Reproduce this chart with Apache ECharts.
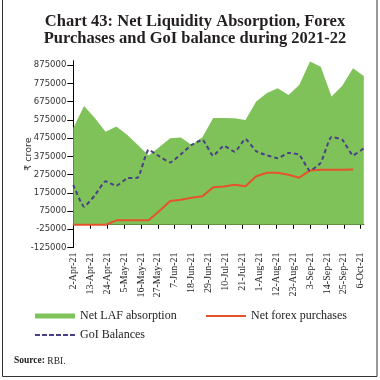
<!DOCTYPE html>
<html><head><meta charset="utf-8">
<script src="https://cdn.jsdelivr.net/npm/echarts@6/dist/echarts.min.js"></script>
<style>html,body{margin:0;padding:0;background:#fff}#c{width:380px;height:380px}</style>
</head><body><div id="c"></div>
<script>
// Weekly observation dates (Fridays)
const dates = ['2021-04-02','2021-04-09','2021-04-16','2021-04-23','2021-04-30','2021-05-07','2021-05-14',
  '2021-05-21','2021-05-28','2021-06-04','2021-06-11','2021-06-18','2021-06-25','2021-07-02','2021-07-09',
  '2021-07-16','2021-07-23','2021-07-30','2021-08-06','2021-08-13','2021-08-20','2021-08-27','2021-09-03',
  '2021-09-10','2021-09-17','2021-09-24','2021-10-01','2021-10-08'];
// values in thousand ₹ crore
const lafAbsorption = [531,652,585,510,539,494,438,380,427,474,478,438,480,585,585,584,575,676,723,749,712,767,895,867,704,762,859,816];
const goiBalances   = [219,99,161,238,214,255,259,411,375,342,387,438,466,378,433,400,470,403,381,365,394,384,296,340,482,466,381,419];
const forexPurchases= [0,0,0,0,24,24,24,24,75,130,137,148,156,205,210,219,211,266,285,285,274,258,298,301,302,302,303,null];
const tickLabels = ['2-Apr-21','13-Apr-21','24-Apr-21','5-May-21','16-May-21','27-May-21','7-Jun-21','18-Jun-21',
  '29-Jun-21','10-Jul-21','21-Jul-21','1-Aug-21','12-Aug-21','23-Aug-21','3-Sep-21','14-Sep-21','25-Sep-21','6-Oct-21'];
const yTickValues = [-125000,-25000,75000,175000,275000,375000,475000,575000,675000,775000,875000];

const MONTHS = {Jan:0,Feb:1,Mar:2,Apr:3,May:4,Jun:5,Jul:6,Aug:7,Sep:8,Oct:9,Nov:10,Dec:11};
const start = Date.UTC(2021,3,2);
function dayISO(s){const p=s.split('-').map(Number);return (Date.UTC(p[0],p[1]-1,p[2])-start)/864e5;}
function dayLabel(s){const p=s.split('-');return (Date.UTC(2000+Number(p[2]),MONTHS[p[1]],Number(p[0]))-start)/864e5;}
const xs = dates.map(dayISO);
const tickX = tickLabels.map(dayLabel);
const labelByX = {}; tickX.forEach((x,i)=>{labelByX[x]=tickLabels[i];});
const pairs = arr => arr.map((v,i)=>[xs[i], v]).filter(p=>p[1]!=null).map(p=>[p[0], p[1]*1000]);

const GREEN = '#80c25a', ORANGE = '#e5532a', PURPLE = '#4a3f86';
const dashIcon = 'path://M0,0h5v2h-5z M7,0h5v2h-5z M14,0h5v2h-5z M21,0h5v2h-5z M28,0h5v2h-5z M35,0h5v2h-5z';

const chart = echarts.init(document.getElementById('c'), null, {renderer:'canvas'});
const serif = 'Liberation Serif';
const legendText = {fontFamily:serif, fontSize:12, color:'#222'};
chart.setOption({
  animation:false,
  title:{text:'Chart 43: Net Liquidity Absorption, Forex\nPurchases and GoI balance during 2021-22',
    left:190, top:8, textAlign:'center',
    textStyle:{fontFamily:serif, fontWeight:'bold', fontSize:16.5, lineHeight:17, color:'#231f20'}},
  grid:{left:73.3, top:60.7, width:290.5, height:186.8},
  xAxis:{type:'value', min:0, max:dayISO(dates[dates.length-1]),
    axisLine:{onZero:true, lineStyle:{color:'#000', width:1}},
    axisTick:{show:true, customValues:tickX, length:4, lineStyle:{color:'#000'}},
    axisLabel:{customValues:tickX, formatter:v=>labelByX[v]||'', rotate:90, margin:5,
      fontFamily:serif, fontSize:10, color:'#222'},
    splitLine:{show:false}},
  yAxis:{type:'value', min:-125000, max:900000,
    axisLine:{show:true, onZero:false, lineStyle:{color:'#000'}},
    axisTick:{show:true, customValues:yTickValues, length:6, lineStyle:{color:'#000'}},
    axisLabel:{customValues:yTickValues, formatter:v=>String(v), fontFamily:'DejaVu Sans', fontSize:8.5, color:'#333', margin:7},
    splitLine:{show:false},
    name:'₹ crore', nameLocation:'middle', nameGap:40, nameMoveOverlap:false,
    nameTextStyle:{fontFamily:'DejaVu Sans', fontSize:9.5, color:'#333'}},
  legend:[
    {data:[{name:'Net LAF absorption', icon:'rect'}], left:30, top:305, itemWidth:40, itemHeight:5, textStyle:legendText},
    {data:[{name:'Net forex purchases', icon:'rect', itemStyle:{color:ORANGE}}], left:201, top:305, itemWidth:40, itemHeight:2, textStyle:legendText},
    {data:[{name:'GoI Balances', icon:dashIcon, itemStyle:{color:PURPLE}}], left:30, top:324, itemWidth:40, itemHeight:2, textStyle:legendText}
  ],
  series:[
    {name:'Net LAF absorption', type:'line', data:pairs(lafAbsorption), symbol:'none', z:1,
      itemStyle:{color:GREEN}, lineStyle:{width:0, color:GREEN},
      areaStyle:{color:GREEN, opacity:1, origin:0}},
    {name:'Net forex purchases', type:'line', data:pairs(forexPurchases), symbol:'none', z:3,
      itemStyle:{color:ORANGE}, lineStyle:{width:2, color:ORANGE}},
    {name:'GoI Balances', type:'line', data:pairs(goiBalances), symbol:'none', z:4, smooth:0.15,
      itemStyle:{color:PURPLE}, lineStyle:{width:2, color:PURPLE, type:[4,3]}}
  ],
  graphic:[
    {type:'polyline', shape:{points:[[2.5,0],[2.5,376.5],[377,376.5],[377,0]]}, style:{stroke:'#333', lineWidth:1, fill:null}},
    {type:'text', left:14, top:356, style:{text:'{b|Source:} RBI.', fontFamily:serif, fontSize:9.5, fill:'#222',
      rich:{b:{fontWeight:'bold', fontFamily:serif, fontSize:9.5, fill:'#222'}}}}
  ]
});
</script>
</body></html>
